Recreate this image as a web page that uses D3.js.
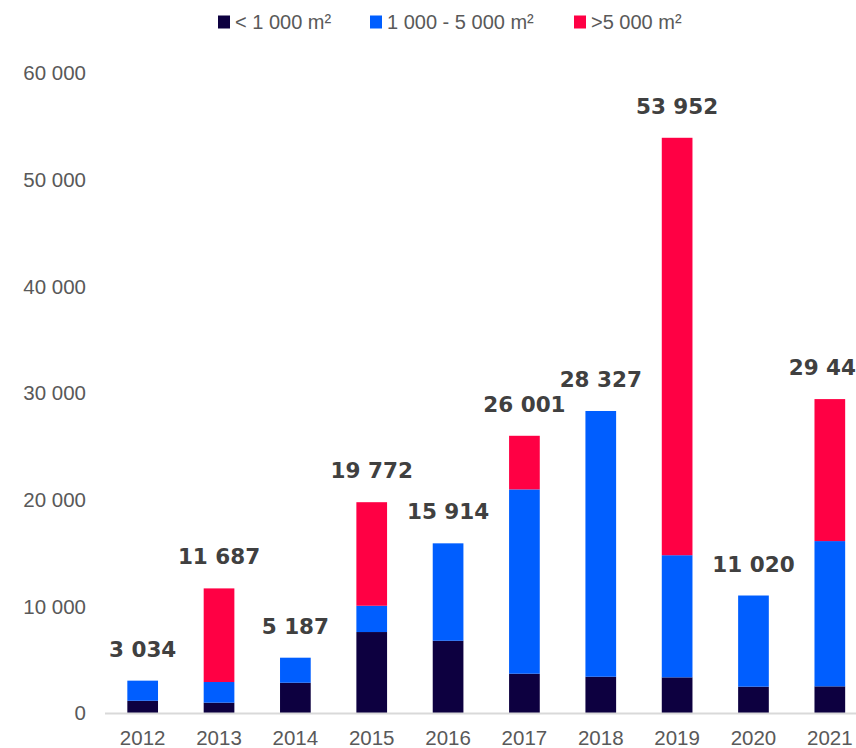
<!DOCTYPE html>
<html>
<head>
    <meta charset="UTF-8">
    <title>Stacked bars by surface</title>
    <script src="https://cdn.jsdelivr.net/npm/d3@7"></script>
    <style>
        body { margin: 0; background: #fff; }
        svg { display: block; }
    </style>
</head>
<body>
    <svg id="chart"></svg>
    <script>

        // data
        const years = ["2012", "2013", "2014", "2015", "2016", "2017", "2018", "2019", "2020", "2021"];
        const small = [1150, 970, 2840, 7594, 6780, 3686, 3403, 3344, 2470, 2500];
        const medium = [1884, 1936, 2347, 2466, 9134, 17286, 24924, 11456, 8550, 13625];
        const large = [0, 8781, 0, 9712, 0, 5029, 0, 39152, 0, 13318];
        const seriesNames = ["< 1 000 m²", "1 000 - 5 000 m²", ">5 000 m²"];
        const colors = ["#0d0040", "#005eff", "#ff0044"];
        const yTicks = [0, 10000, 20000, 30000, 40000, 50000, 60000];

        const width = 856, height = 748;

        const svg = d3.select("#chart")
            .attr("width", width)
            .attr("height", height);

        // build rows for the stack
        const keys = ["small", "medium", "large"];
        const rows = years.map((y, i) => ({ year: y, small: small[i], medium: medium[i], large: large[i] }));
        const stacked = d3.stack().keys(keys)(rows);

        // plot area runs a bit past the right edge (it is cut off in the original)
        const x = d3.scaleBand()
            .domain(years)
            .range([104.5, 868])
            .paddingInner(0.598)
            .paddingOuter(0.299);

        const y = d3.scaleLinear()
            .domain([0, 60000])
            .range([713, 73.3]);

        const fmt = v => d3.format(",")(v).replace(/,/g, " ");

        // y axis labels (no line)
        svg.append("g")
            .selectAll("text")
            .data(yTicks)
            .join("text")
            .attr("x", 86)
            .attr("y", d => y(d))
            .attr("dy", "0.35em")
            .attr("text-anchor", "end")
            .attr("font-family", "Liberation Sans, Arial, sans-serif")
            .attr("font-size", "20.5px")
            .attr("fill", "#595959")
            .text(d => fmt(d));

        // bars
        svg.append("g")
            .selectAll("g")
            .data(stacked)
            .join("g")
            .attr("fill", (d, i) => colors[i])
            .selectAll("rect")
            .data(d => d)
            .join("rect")
            .attr("x", d => x(d.data.year))
            .attr("y", d => y(d[1]))
            .attr("width", x.bandwidth())
            .attr("height", d => y(d[0]) - y(d[1]));

        // baseline
        svg.append("line")
            .attr("x1", 105)
            .attr("x2", width)
            .attr("y1", y(0) + 0.5)
            .attr("y2", y(0) + 0.5)
            .attr("stroke", "#d9d9d9")
            .attr("stroke-width", 2);

        // x labels
        svg.append("g")
            .selectAll("text")
            .data(years)
            .join("text")
            .attr("x", d => x(d) + x.bandwidth() / 2)
            .attr("y", 745)
            .attr("text-anchor", "middle")
            .attr("font-family", "Liberation Sans, Arial, sans-serif")
            .attr("font-size", "20.5px")
            .attr("fill", "#595959")
            .text(d => d);

        // totals above bars
        svg.append("g")
            .selectAll("text")
            .data(rows)
            .join("text")
            .attr("x", d => x(d.year) + x.bandwidth() / 2)
            .attr("y", d => y(d.small + d.medium + d.large) - 24)
            .attr("text-anchor", "middle")
            .attr("font-family", "DejaVu Sans, sans-serif")
            .attr("font-weight", "bold")
            .attr("font-size", "21.5px")
            .attr("fill", "#404040")
            .text(d => fmt(d.small + d.medium + d.large));

        // legend
        const legendX = [218, 370, 574];
        const legend = svg.append("g")
            .selectAll("g")
            .data(seriesNames)
            .join("g")
            .attr("transform", (d, i) => `translate(${legendX[i]}, 22)`);

        legend.append("rect")
            .attr("x", 0)
            .attr("y", -6.5)
            .attr("width", 12)
            .attr("height", 13)
            .attr("fill", (d, i) => colors[i]);

        legend.append("text")
            .attr("x", 17)
            .attr("dy", "0.35em")
            .attr("font-family", "Liberation Sans, Arial, sans-serif")
            .attr("font-size", "20px")
            .attr("fill", "#595959")
            .text(d => d);

    </script>
</body>
</html>
